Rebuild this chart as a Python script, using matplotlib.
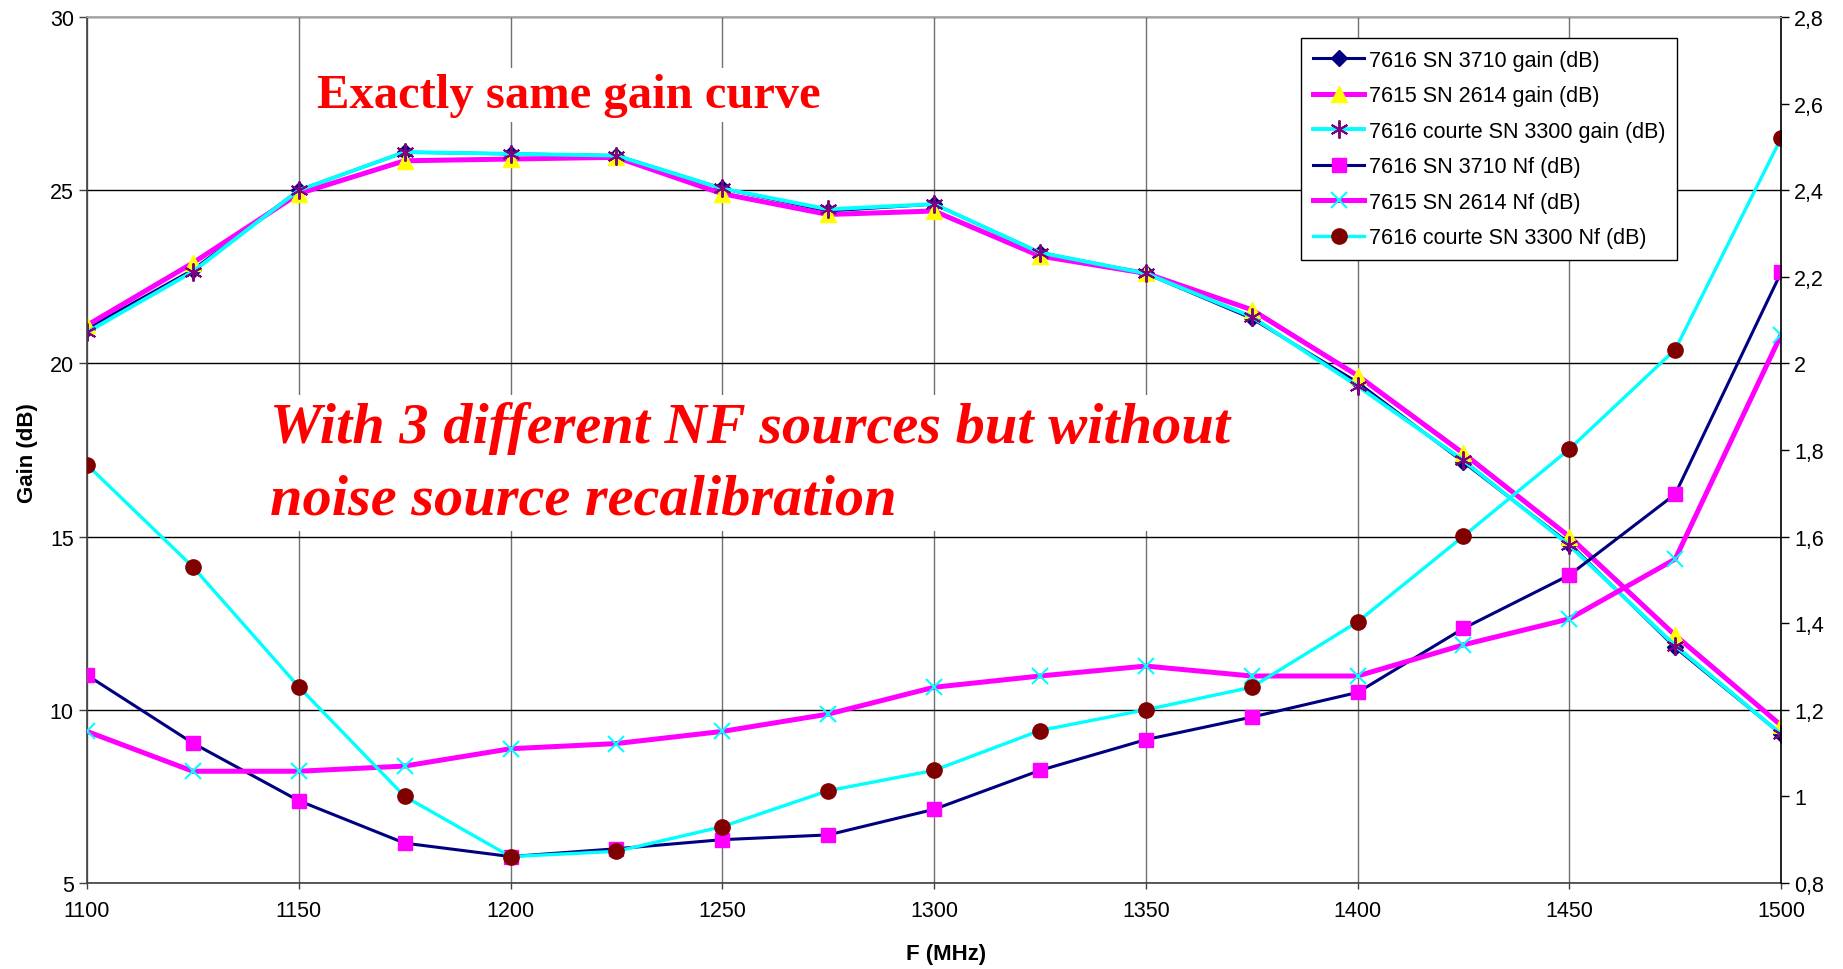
import matplotlib
matplotlib.use('Agg')
import matplotlib.pyplot as plt
from matplotlib.ticker import FixedLocator, FuncFormatter

plt.rcParams['font.family'] = ['Liberation Sans', 'DejaVu Sans']

# frequency points (MHz)
freq = [1100, 1125, 1150, 1175, 1200, 1225, 1250, 1275, 1300,
        1325, 1350, 1375, 1400, 1425, 1450, 1475, 1500]

# gain (dB) - left axis
gain_3710 = [21.0, 22.7, 25.0, 26.1, 26.05, 26.0, 25.05, 24.4, 24.6,
             23.2, 22.6, 21.3, 19.45, 17.15, 14.8, 11.8, 9.3]
gain_2614 = [21.1, 22.9, 24.9, 25.85, 25.9, 25.95, 24.9, 24.3, 24.4,
             23.1, 22.6, 21.55, 19.65, 17.4, 15.0, 12.15, 9.55]
gain_3300 = [20.9, 22.65, 25.0, 26.1, 26.05, 26.0, 25.05, 24.45, 24.6,
             23.2, 22.6, 21.35, 19.35, 17.2, 14.75, 11.85, 9.3]

# noise figure (dB) - right axis
nf_3710 = [1.28, 1.123, 0.99, 0.892, 0.861, 0.879, 0.90, 0.911, 0.97,
           1.06, 1.131, 1.183, 1.24, 1.388, 1.511, 1.698, 2.21]
nf_2614 = [1.15, 1.058, 1.058, 1.07, 1.11, 1.122, 1.15, 1.19, 1.252,
           1.278, 1.301, 1.278, 1.278, 1.35, 1.41, 1.548, 2.066]
nf_3300 = [1.766, 1.53, 1.253, 1.0, 0.861, 0.873, 0.93, 1.013, 1.06,
           1.152, 1.2, 1.252, 1.403, 1.601, 1.802, 2.032, 2.52]

x_ticks = [1100, 1150, 1200, 1250, 1300, 1350, 1400, 1450, 1500]
gain_ticks = [5, 10, 15, 20, 25, 30]
nf_ticks = [0.8, 1.0, 1.2, 1.4, 1.6, 1.8, 2.0, 2.2, 2.4, 2.6, 2.8]

navy = '#000080'
magenta = '#FF00FF'
cyan = '#00FFFF'

fig = plt.figure(figsize=(18.43, 9.70), dpi=100)
ax = fig.add_axes([0.0472, 0.0887, 0.9192, 0.8927])
ax2 = ax.twinx()

# gain curves
l1, = ax.plot(freq, gain_3710, color=navy, lw=2.2, marker='D', ms=8,
              mfc=navy, mec=navy, label='7616 SN 3710 gain (dB)')
l2, = ax.plot(freq, gain_2614, color=magenta, lw=3.6, marker='^', ms=12,
              mfc='#FFFF00', mec='#FFFF00', label='7615 SN 2614 gain (dB)')
l3, = ax.plot(freq, gain_3300, color=cyan, lw=2.8, marker=(6, 2, 0), ms=13,
              mfc='#800080', mec='#800080', mew=1.4,
              label='7616 courte SN 3300 gain (dB)')

# noise figure curves
l4, = ax2.plot(freq, nf_3710, color=navy, lw=2.2, marker='s', ms=10,
               mfc=magenta, mec=magenta, label='7616 SN 3710 Nf (dB)')
l5, = ax2.plot(freq, nf_2614, color=magenta, lw=3.6, marker='x', ms=12,
               mfc=cyan, mec=cyan, mew=1.5, label='7615 SN 2614 Nf (dB)')
l6, = ax2.plot(freq, nf_3300, color=cyan, lw=2.4, marker='o', ms=11,
               mfc='#800000', mec='#800000', label='7616 courte SN 3300 Nf (dB)')

ax.set_xlim(1100, 1500)
ax.set_ylim(5, 30)
ax2.set_ylim(0.8, 2.8)
ax.xaxis.set_major_locator(FixedLocator(x_ticks))
ax.yaxis.set_major_locator(FixedLocator(gain_ticks))
ax2.yaxis.set_major_locator(FixedLocator(nf_ticks))
ax2.yaxis.set_major_formatter(FuncFormatter(lambda v, p: f'{v:g}'.replace('.', ',')))

ax.grid(axis='y', color='black', lw=1.0)
ax.grid(axis='x', color='#707070', lw=1.0)

ax.tick_params(axis='both', direction='out', length=6, width=1, labelsize=15.5,
               colors='#404040', labelcolor='black')
ax.tick_params(axis='x', pad=8, length=4)
ax2.tick_params(axis='y', direction='out', length=6, width=1, labelsize=15.5,
                colors='black', labelcolor='black')

ax.spines['top'].set_color('#a0a0a0')
ax2.spines['top'].set_color('#a0a0a0')
ax.spines['left'].set_color('#404040')
ax.spines['bottom'].set_color('#404040')
ax2.spines['left'].set_visible(False)
ax2.spines['bottom'].set_visible(False)
ax2.spines['right'].set_color('black')
ax.spines['right'].set_visible(False)
for s in ax.spines.values():
    s.set_linewidth(1.2)
ax2.spines['right'].set_linewidth(1.2)

ax.set_ylabel('Gain (dB)', fontsize=16, fontweight='bold')
ax.yaxis.set_label_coords(-0.029, 0.498)
ax.set_xlabel('F (MHz)', fontsize=16, fontweight='bold')
ax.xaxis.set_label_coords(0.507, -0.069)

# annotations
ax.text(1154.4, 27.40, 'Exactly same gain curve', color='red', fontsize=35,
        fontweight='bold', family='Liberation Serif', va='baseline',
        bbox=dict(boxstyle='square,pad=0.1', fc='white', ec='none'), zorder=1.8)
ax.text(1143.3, 15.68, 'With 3 different NF sources but without\nnoise source recalibration',
        color='red', fontsize=42, fontweight='bold', fontstyle='italic',
        family='Liberation Serif', va='baseline', linespacing=1.47,
        bbox=dict(boxstyle='square,pad=0.1', fc='white', ec='none'), zorder=1.8)

handles = [l1, l2, l3, l4, l5, l6]
leg = ax2.legend(handles, [h.get_label() for h in handles], loc='upper right',
                 bbox_to_anchor=(0.9386, 0.9757), borderaxespad=0, fontsize=15.5,
                 fancybox=False, edgecolor='black', framealpha=1,
                 handlelength=2.4, handletextpad=0.2, labelspacing=0.67,
                 borderpad=0.55, numpoints=1)
leg.get_frame().set_linewidth(1.0)

fig.savefig('out.png', dpi=100)
